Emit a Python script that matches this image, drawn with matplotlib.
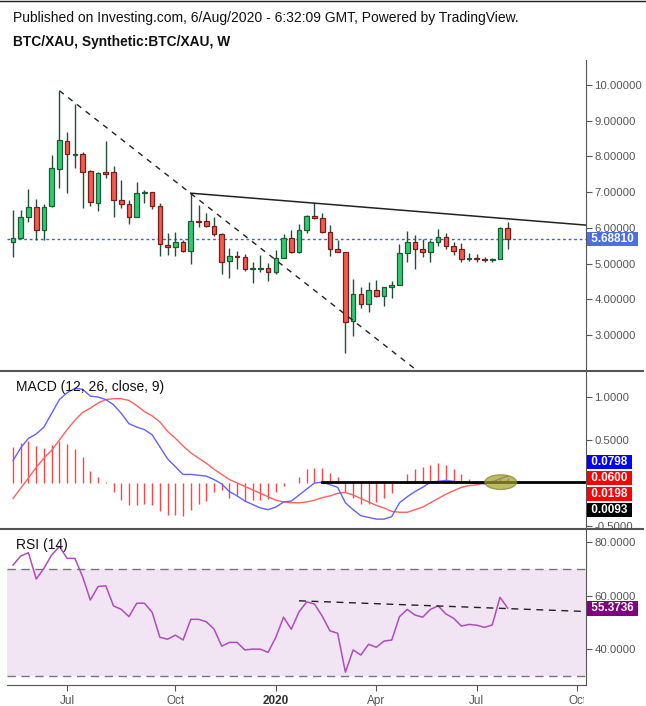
import numpy as np
import pandas as pd
import matplotlib
matplotlib.use('Agg')
import matplotlib.pyplot as plt
from matplotlib.patches import Ellipse
from matplotlib.lines import Line2D
from matplotlib.ticker import FormatStrFormatter
from matplotlib.transforms import Bbox, TransformedBbox

plt.rcParams['font.family'] = ['Liberation Sans', 'DejaVu Sans']

# weekly bars (Monday of each week)
dates = pd.date_range('2019-05-13', periods=65, freq='W-MON')

opens = [5.61, 5.71, 6.29, 6.57, 5.93, 6.62, 7.64, 8.42, 8.05, 8.06,
         7.58, 6.69, 7.55, 7.55, 6.77, 6.66, 6.31, 6.97, 7.00, 6.62,
         5.51, 5.45, 5.59, 5.36, 6.18, 6.18, 6.06, 5.82, 5.06, 5.20,
         5.17, 4.84, 4.85, 4.86, 4.75, 5.15, 5.72, 5.31, 5.93, 6.33,
         6.27, 5.89, 5.40, 5.31, 3.40, 4.14, 3.86, 4.26, 4.10, 4.33,
         4.40, 5.29, 5.61, 5.40, 5.31, 5.61, 5.75, 5.49, 5.40, 5.12,
         5.16, 5.14, 5.09, 5.12, 5.99]
highs = [6.50, 6.50, 7.09, 6.80, 6.66, 8.04, 9.84, 8.67, 9.47, 8.11,
         7.62, 7.57, 8.43, 7.73, 7.34, 6.79, 7.27, 7.06, 7.00, 6.69,
         5.85, 5.89, 5.66, 6.97, 6.63, 6.41, 6.29, 5.85, 5.43, 5.35,
         5.26, 5.05, 5.24, 5.01, 5.38, 5.83, 5.93, 6.11, 6.37, 6.69,
         6.41, 6.08, 5.66, 5.32, 4.57, 4.35, 4.47, 4.54, 4.33, 4.50,
         5.55, 5.91, 5.80, 5.69, 5.66, 5.97, 5.85, 5.61, 5.58, 5.29,
         5.26, 5.19, 5.15, 6.02, 6.15]
lows = [5.19, 5.70, 6.17, 5.66, 5.67, 6.59, 7.11, 6.97, 7.68, 6.55,
        6.62, 6.48, 7.39, 6.31, 6.55, 6.10, 6.31, 6.69, 6.52, 5.22,
        5.24, 5.22, 5.33, 4.98, 6.01, 6.01, 5.78, 4.70, 4.59, 4.85,
        4.80, 4.45, 4.75, 4.52, 4.70, 5.15, 5.29, 5.29, 5.85, 6.24,
        5.86, 5.21, 5.31, 2.48, 2.97, 3.74, 3.65, 4.05, 3.82, 4.03,
        4.40, 5.05, 4.84, 5.17, 5.05, 5.49, 5.40, 5.24, 5.03, 5.08,
        5.05, 5.05, 5.03, 5.12, 5.40]
closes = [5.71, 6.29, 6.57, 5.93, 6.59, 7.67, 8.45, 8.06, 8.07, 7.55,
          6.71, 7.53, 7.51, 6.77, 6.66, 6.31, 6.97, 7.00, 6.62, 5.54,
          5.45, 5.59, 5.36, 6.18, 6.17, 6.06, 5.82, 5.03, 5.20, 5.17,
          4.84, 4.86, 4.86, 4.75, 5.15, 5.72, 5.33, 5.93, 6.33, 6.27,
          5.89, 5.40, 5.31, 3.37, 4.14, 3.86, 4.26, 4.10, 4.33, 4.40,
          5.29, 5.61, 5.40, 5.31, 5.61, 5.75, 5.49, 5.36, 5.12, 5.14,
          5.13, 5.09, 5.12, 5.99, 5.6881]

macd = [0.26, 0.41, 0.52, 0.57, 0.65, 0.81, 0.97, 1.05, 1.10, 1.09,
        1.01, 1.00, 0.97, 0.91, 0.81, 0.69, 0.65, 0.62, 0.56, 0.42,
        0.28, 0.19, 0.10, 0.10, 0.09, 0.08, 0.04, -0.01, -0.10, -0.15,
        -0.21, -0.25, -0.29, -0.31, -0.28, -0.22, -0.21, -0.14, -0.07, 0.00,
        0.01, -0.02, -0.05, -0.23, -0.31, -0.38, -0.40, -0.42, -0.42, -0.39,
        -0.23, -0.16, -0.10, -0.05, 0.01, 0.02, 0.03, 0.02, 0.01, 0.00,
        0.00, -0.01, 0.01, 0.05, 0.0798]
signal = [-0.18, -0.06, 0.06, 0.18, 0.29, 0.38, 0.50, 0.62, 0.73, 0.82,
          0.87, 0.93, 0.97, 0.98, 0.98, 0.96, 0.90, 0.83, 0.78, 0.71,
          0.60, 0.52, 0.43, 0.35, 0.29, 0.23, 0.16, 0.10, 0.04, 0.00,
          -0.04, -0.08, -0.12, -0.16, -0.20, -0.22, -0.23, -0.23, -0.22, -0.20,
          -0.17, -0.15, -0.12, -0.11, -0.14, -0.18, -0.22, -0.26, -0.29, -0.33,
          -0.34, -0.34, -0.31, -0.28, -0.23, -0.18, -0.13, -0.09, -0.05, -0.03,
          -0.02, 0.00, 0.01, 0.01, 0.0198]
hist = [0.42, 0.47, 0.49, 0.43, 0.41, 0.44, 0.49, 0.45, 0.40, 0.30,
        0.14, 0.07, 0.01, -0.10, -0.20, -0.26, -0.26, -0.24, -0.25, -0.33,
        -0.37, -0.37, -0.38, -0.31, -0.24, -0.21, -0.11, -0.08, -0.18, -0.14,
        -0.21, -0.20, -0.20, -0.19, -0.11, -0.03, -0.005, 0.07, 0.16, 0.18,
        0.18, 0.12, 0.07, -0.10, -0.18, -0.24, -0.24, -0.22, -0.18, -0.12,
        -0.005, 0.10, 0.16, 0.19, 0.21, 0.23, 0.21, 0.16, 0.10, 0.05,
        0.015, 0.005, 0.03, 0.05, 0.06]
rsi = [71.4, 74.8, 76.0, 66.2, 70.2, 75.2, 78.3, 73.9, 73.9, 67.1,
       58.4, 63.4, 63.7, 56.2, 54.9, 52.2, 57.2, 57.2, 53.8, 44.5,
       43.8, 45.3, 43.5, 51.2, 51.2, 50.3, 47.6, 41.2, 42.6, 42.6,
       39.8, 40.1, 40.1, 38.9, 44.5, 52.0, 47.5, 54.0, 57.7, 56.9,
       52.4, 46.9, 46.0, 31.5, 39.8, 37.9, 41.9, 40.8, 43.1, 43.5,
       52.2, 54.9, 52.8, 52.0, 54.9, 56.2, 53.2, 51.6, 48.7, 49.3,
       49.0, 48.2, 49.1, 59.4, 55.3736]

tick_dates = ['2019-07-01', '2019-10-07', '2020-01-06', '2020-04-06', '2020-07-06', '2020-10-05']
tick_labels = ['Jul', 'Oct', '2020', 'Apr', 'Jul', 'Oct']

# drawn lines (bar index, value)
down_trend = [(6, 9.84), (23, 6.96)]
top_trend = [(23, 6.97), (39, 6.69)]
rsi_trend = [(37, 58.1), (64, 55.2)]
macd_level = 0.0093

W, H = 646, 706
fig = plt.figure(figsize=(W / 100, H / 100), dpi=100)


def px_axes(top, bottom):
    return fig.add_axes([7 / W, 1 - bottom / H, 579 / W, (bottom - top) / H])


def clip_to(texts, x0, y0, x1, y1):
    box = TransformedBbox(Bbox.from_extents(x0 / W, 1 - y1 / H, x1 / W, 1 - y0 / H), fig.transFigure)
    for t in texts:
        t.set_clip_box(box)
        t.set_clip_on(True)


def tag(ax, y, text, color, coords='data'):
    ax.annotate(' ' + text + ' ', xy=(1, y), xycoords=('axes fraction', coords),
                xytext=(2, 0), textcoords='offset pixels', ha='left', va='center',
                color='white', fontsize=8.5, fontweight='bold', annotation_clip=False,
                bbox=dict(boxstyle='square,pad=0.12', fc=color, ec='none'), zorder=10)


ax1 = px_axes(60, 370)
ax2 = px_axes(371, 528)
ax3 = px_axes(530, 685)
x = np.arange(len(dates))
xmax = 74.13

for ax in (ax1, ax2, ax3):
    ax.set_xlim(-0.78, xmax)
    for s in ('top', 'left', 'bottom'):
        ax.spines[s].set_visible(False)
    ax.spines['right'].set_color('#555555')
    ax.yaxis.tick_right()
    ax.tick_params(axis='y', colors='#555555', labelcolor='#555555', labelsize=8.2, length=4, pad=2)
    ax.set_xticks([])

# ---- price panel
o = np.array(opens); c = np.array(closes)
up = c >= o
ax1.vlines(x, lows, highs, color='#24503a', lw=1, zorder=2)
body_bottom = np.minimum(o, c)
body_h = np.maximum(np.abs(c - o), 0.03)
ax1.bar(x[up], body_h[up], bottom=body_bottom[up], width=0.6, color='#2ecc71',
        edgecolor='#1d5a36', lw=0.9, zorder=3)
ax1.bar(x[~up], body_h[~up], bottom=body_bottom[~up], width=0.6, color='#f25c4c',
        edgecolor='#7d1c1c', lw=0.9, zorder=3)

(x0, y0), (x1, y1) = down_trend
slope = (y1 - y0) / (x1 - x0)
ax1.plot([x0, 60], [y0, y0 + slope * (60 - x0)], color='#222222', lw=1, dashes=(4, 4), zorder=4)
(x0, y0), (x1, y1) = top_trend
slope = (y1 - y0) / (x1 - x0)
ax1.plot([x0, xmax], [y0, y0 + slope * (xmax - x0)], color='#222222', lw=1.1, zorder=4)
ax1.axhline(closes[-1], color='#3a5cff', lw=1, dashes=(2, 2), zorder=1)

ax1.set_ylim(2.017, 10.70)
ax1.set_yticks(np.arange(3, 11))
ax1.yaxis.set_major_formatter(FormatStrFormatter('%.5f'))
tag(ax1, closes[-1], '%.5f' % closes[-1], '#4d6ee3')

# ---- MACD panel
ax2.vlines(x, 0, hist, color='#ff4444', lw=1, zorder=2)
ax2.plot(x, signal, color='#ff6060', lw=1, zorder=3)
ax2.plot(x, macd, color='#6262ff', lw=1, zorder=4)
ax2.plot([40, xmax], [macd_level, macd_level], color='black', lw=2, zorder=5)
ax2.add_patch(Ellipse((63.1, 0.01), 4.1, 0.17, fc='#9f9f2a', ec='#85851f', alpha=0.7, lw=1, zorder=6))
ax2.set_ylim(-0.523, 1.302)
ax2.set_yticks([-0.5, 0.5, 1.0])
ax2.yaxis.set_major_formatter(FormatStrFormatter('%.4f'))
for py, val, col in zip([462, 478, 494, 510],
                        [macd[-1], hist[-1], signal[-1], macd_level],
                        ['#0000ff', '#ff0000', '#ff0000', '#000000']):
    tag(ax2, (528 - py) / 157, '%.4f' % val, col, coords='axes fraction')

# ---- RSI panel
ax3.axhspan(30, 70, color='#f1e4f3', lw=0, zorder=0)
for lev in (30, 70):
    ax3.axhline(lev, color='#777777', lw=1, dashes=(6, 4), zorder=1)
ax3.plot(x, rsi, color='#b04cbf', lw=1.1, zorder=3)
(x0, y0), (x1, y1) = rsi_trend
slope = (y1 - y0) / (x1 - x0)
ax3.plot([x0, xmax], [y0, y0 + slope * (xmax - x0)], color='#222222', lw=1, dashes=(5, 4), zorder=4)
ax3.set_ylim(26.74, 84.47)
ax3.set_yticks([40, 60, 80])
ax3.yaxis.set_major_formatter(FormatStrFormatter('%.4f'))
tag(ax3, rsi[-1], '%.4f' % rsi[-1], '#800080')

ax3.spines['bottom'].set_visible(True)
ax3.spines['bottom'].set_color('#555555')
tick_pos = [(pd.Timestamp(d) - dates[0]).days / 7 for d in tick_dates]
ax3.set_xticks(tick_pos)
ax3.set_xticklabels(tick_labels)
ax3.tick_params(axis='x', colors='#555555', labelcolor='#555555', labelsize=8.5, length=4, pad=3)
for t in ax3.get_xticklabels():
    if t.get_text() == '2020':
        t.set_fontweight('bold')
        t.set_color('#333333')

clip_to(ax1.get_yticklabels(), 0, 60, W, 370)
clip_to(ax2.get_yticklabels(), 0, 371, W, 528)
clip_to(ax3.get_xticklabels(), 0, 0, 584, H)

# frame lines between panels
for yy in (370.5, 528.5):
    fig.add_artist(Line2D([0, 643 / W], [1 - yy / H] * 2, color='#555555', lw=1.5, transform=fig.transFigure))
fig.add_artist(Line2D([0, 1], [1 - 0.5 / H] * 2, color='#222222', lw=1, transform=fig.transFigure))

fig.text(13 / W, 1 - 18 / H, 'Published on Investing.com, 6/Aug/2020 - 6:32:09 GMT, Powered by TradingView.',
         fontsize=10, va='center', ha='left', color='#111111')
fig.text(13 / W, 1 - 42 / H, 'BTC/XAU, Synthetic:BTC/XAU, W', fontsize=9.9, fontweight='bold',
         va='center', ha='left', color='#111111')
fig.text(16 / W, 1 - 387 / H, 'MACD (12, 26, close, 9)', fontsize=10, va='center', ha='left', color='#111111')
fig.text(16 / W, 1 - 545 / H, 'RSI (14)', fontsize=10, va='center', ha='left', color='#111111')

fig.savefig('out.png', dpi=100)
